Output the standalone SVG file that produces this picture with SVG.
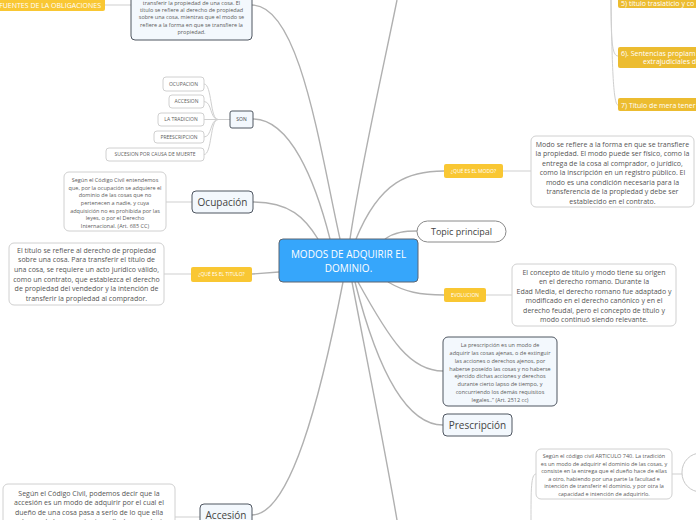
<svg xmlns="http://www.w3.org/2000/svg" width="696" height="520" viewBox="0 0 696 520">
<style>
text{font-family:"Open Sans","Noto Sans","DejaVu Sans",sans-serif}
.main{fill:none;stroke:#b0b0b0;stroke-width:1.4}
.sub{fill:none;stroke:#cfcfcf;stroke-width:1}
.yel{fill:#f9c733}
.gold{fill:#ecbc30}
.yt{fill:#ffffff;font-size:5px;text-anchor:middle}
.gt{fill:#ffffff;font-size:7px}
.lb{fill:#f3f8fd;stroke:#4f5661;stroke-width:1}
.wb{fill:#ffffff;stroke:#d0d0d0;stroke-width:1}
.st{fill:#5c5c5c;font-size:5.5px;text-anchor:middle}
.mt{fill:#555555;font-size:7px;text-anchor:middle}
.lt{fill:#5c5c5c;font-size:5px;text-anchor:middle}
.tt{fill:#444444;font-size:10px;text-anchor:middle}
</style>
<rect width="696" height="520" fill="#ffffff"/>
<g id="connectors">
<path class="main" d="M252,5 C300,5 320,150 340,239"/>
<path class="main" d="M397,0 C385,60 360,170 350,239"/>
<path class="main" d="M253,119 C290,119 315,180 330,239"/>
<path class="main" d="M253,202 C290,202 305,218 318,239"/>
<path class="main" d="M252,274 L279,272"/>
<path class="main" d="M356,239 C380,180 410,171 444,171"/>
<path class="main" d="M385,239 C395,232 405,231 417,231"/>
<path class="main" d="M388,282 C405,292 420,295 444,295"/>
<path class="main" d="M358,282 C390,340 410,371 443,371"/>
<path class="main" d="M355,282 C380,380 410,425 443,425"/>
<path class="main" d="M352,282 C365,350 385,450 397,520"/>
<path class="main" d="M343,282 C320,400 290,515 252,515"/>
<path class="sub" d="M105,5 L131,5"/>
<path class="sub" d="M230,119.5 L218,119.5"/>
<path class="sub" d="M218,119.5 C210,119.5 212,84 204,84"/>
<path class="sub" d="M218,119.5 C210,119.5 212,101.5 204,101.5"/>
<path class="sub" d="M218,119.5 L204,119.5"/>
<path class="sub" d="M218,119.5 C210,119.5 212,137 204,137"/>
<path class="sub" d="M218,119.5 C210,119.5 212,154.5 204,154.5"/>
<path class="sub" d="M166,202 L192,202"/>
<path class="sub" d="M164,274 L191,274"/>
<path class="sub" d="M503,171 L531,171"/>
<path class="sub" d="M486,295 L512,295"/>
<path class="sub" d="M175,517 L200,517"/>
<path class="sub" d="M672,474 L682,474"/>
<path class="sub" d="M531,520 C531,490 531,474 536,474"/>
<path class="sub" d="M611,0 C611,40 612,56 618,56"/>
<path class="sub" d="M611,0 C612,60 613,105 618,105"/>
</g>
<g id="fuentes">
<rect class="yel" x="-10" y="-6" width="115" height="17" rx="2"/>
<text class="gt" x="101" y="7.5" text-anchor="end">FUENTES DE LA OBLIGACIONES</text>
</g>
<g id="top-text">
<rect class="lb" x="131" y="-10" width="121" height="50" rx="4"/>
<text class="st" x="191.5" y="4.7">transferir la propiedad de una cosa. El</text>
<text class="st" x="191.5" y="12">título se refiere al derecho de propiedad</text>
<text class="st" x="191.5" y="19.3">sobre una cosa, mientras que el modo se</text>
<text class="st" x="191.5" y="27">refiere a la forma en que se transfiere la</text>
<text class="st" x="191.5" y="34.3">propiedad.</text>
</g>
<g id="son">
<rect class="lb" x="230" y="111" width="23" height="17" rx="2"/>
<text class="lt" x="241.5" y="121.3" style="fill:#444">SON</text>
</g>
<g id="ocupacion-l">
<rect class="wb" x="163" y="77" width="41" height="14" rx="3"/>
<text class="lt" x="183.5" y="85.8">OCUPACION</text>
</g>
<g id="accesion-l">
<rect class="wb" x="169" y="95" width="35" height="13" rx="3"/>
<text class="lt" x="186.5" y="103.3">ACCESION</text>
</g>
<g id="tradicion-l">
<rect class="wb" x="158" y="113" width="46" height="13" rx="3"/>
<text class="lt" x="181" y="121.3">LA TRADICION</text>
</g>
<g id="prescripcion-l">
<rect class="wb" x="154" y="131" width="50" height="12" rx="3"/>
<text class="lt" x="179" y="138.8">PREESCRIPCION</text>
</g>
<g id="sucesion-l">
<rect class="wb" x="106" y="148" width="98" height="13" rx="3"/>
<text class="lt" x="155" y="156.3">SUCESION POR CAUSA DE MUERTE</text>
</g>
<g id="ocupacion-text">
<rect class="wb" x="64" y="172" width="102" height="59" rx="5"/>
<text class="st" x="115" y="182">Según el Código Civil entendemos</text>
<text class="st" x="115" y="189.7">que, por la ocupación se adquiere el</text>
<text class="st" x="115" y="197">dominio de las cosas que no</text>
<text class="st" x="115" y="205">pertenecen a nadie, y cuya</text>
<text class="st" x="115" y="212.7">adquisición no es prohibida por las</text>
<text class="st" x="115" y="220.3">leyes, o por el Derecho</text>
<text class="st" x="115" y="228">Internacional. (Art. 685 CC)</text>
</g>
<g id="ocupacion">
<rect class="lb" x="192" y="191" width="61" height="22" rx="4"/>
<text class="tt" x="222.5" y="205.5">Ocupación</text>
</g>
<g id="titulo-text">
<rect class="wb" x="9" y="243" width="155" height="62" rx="5"/>
<text class="mt" x="86.5" y="252.5">El título se refiere al derecho de propiedad</text>
<text class="mt" x="86.5" y="262.3">sobre una cosa. Para transferir el título de</text>
<text class="mt" x="86.5" y="272">una cosa, se requiere un acto jurídico válido,</text>
<text class="mt" x="86.5" y="281.5">como un contrato, que establezca el derecho</text>
<text class="mt" x="86.5" y="291">de propiedad del vendedor y la intención de</text>
<text class="mt" x="86.5" y="300.5">transferir la propiedad al comprador.</text>
</g>
<g id="que-titulo">
<rect class="yel" x="191" y="267" width="61" height="15" rx="2"/>
<text class="yt" x="221.5" y="276.3">¿QUÉ ES EL TITULO?</text>
</g>
<g id="center">
<rect x="279" y="239" width="139" height="43" rx="4" fill="#36a6fb" stroke="#5d6570" stroke-width="1"/>
<text x="348.5" y="258" font-size="10" fill="#ffffff" text-anchor="middle">MODOS DE ADQUIRIR EL</text>
<text x="348.5" y="271.5" font-size="10" fill="#ffffff" text-anchor="middle">DOMINIO.</text>
</g>
<g id="box5">
<rect class="gold" x="618" y="-6" width="100" height="14" rx="2"/>
<text class="gt" x="621" y="5.5">5) título traslaticio y co</text>
</g>
<g id="box6">
<rect class="gold" x="618" y="47" width="100" height="21" rx="2"/>
<text class="gt" x="621" y="55.5">6). Sentencias proplam</text>
<text class="gt" x="643" y="64.3">extrajudiciales d</text>
</g>
<g id="box7">
<rect class="gold" x="618" y="98" width="100" height="13" rx="2"/>
<text class="gt" x="621" y="107.5">7) Título de mera tener</text>
</g>
<g id="que-modo">
<rect class="yel" x="444" y="164" width="59" height="14" rx="2"/>
<text class="yt" x="473.5" y="172.8">¿QUÉ ES EL MODO?</text>
</g>
<g id="modo-text">
<rect class="wb" x="531" y="136" width="163" height="71" rx="5"/>
<text class="mt" x="612.5" y="146.5">Modo se refiere a la forma en que se transfiere</text>
<text class="mt" x="612.5" y="156">la propiedad. El modo puede ser físico, como la</text>
<text class="mt" x="612.5" y="165.5">entrega de la cosa al comprador, o jurídico,</text>
<text class="mt" x="612.5" y="175">como la inscripción en un registro público. El</text>
<text class="mt" x="612.5" y="184.5">modo es una condición necesaria para la</text>
<text class="mt" x="612.5" y="194">transferencia de la propiedad y debe ser</text>
<text class="mt" x="612.5" y="203.5">establecido en el contrato.</text>
</g>
<g id="topic">
<rect x="417" y="221" width="89" height="21" rx="10.5" fill="#ffffff" stroke="#8a8a8a" stroke-width="1"/>
<text x="461.5" y="235" font-size="9" fill="#444" text-anchor="middle">Topic principal</text>
</g>
<g id="evolucion">
<rect class="yel" x="444" y="288" width="42" height="14" rx="2"/>
<text class="yt" x="465" y="296.8">EVOLUCION</text>
</g>
<g id="evolucion-text">
<rect class="wb" x="512" y="264" width="164" height="62" rx="5"/>
<text class="mt" x="594" y="274.5">El concepto de título y modo tiene su origen</text>
<text class="mt" x="594" y="284.3">en el derecho romano. Durante la</text>
<text class="mt" x="594" y="293.7">Edad Media, el derecho romano fue adaptado y</text>
<text class="mt" x="594" y="303.3">modificado en el derecho canónico y en el</text>
<text class="mt" x="594" y="312.7">derecho feudal, pero el concepto de título y</text>
<text class="mt" x="594" y="322.3">modo continuó siendo relevante.</text>
</g>
<g id="prescripcion-text">
<rect class="lb" x="443" y="337" width="114" height="69" rx="5"/>
<text class="st" x="500" y="347">La prescripción es un modo de</text>
<text class="st" x="500" y="355">adquirir las cosas ajenas, o de extinguir</text>
<text class="st" x="500" y="362.7">las acciones o derechos ajenos, por</text>
<text class="st" x="500" y="370.7">haberse poseído las cosas y no haberse</text>
<text class="st" x="500" y="378.3">ejercido dichas acciones y derechos</text>
<text class="st" x="500" y="386">durante cierto lapso de tiempo, y</text>
<text class="st" x="500" y="394">concurriendo los demás requisitos</text>
<text class="st" x="500" y="402">legales..” (Art. 2512 cc)</text>
</g>
<g id="prescripcion">
<rect class="lb" x="443" y="414" width="69" height="22" rx="4"/>
<text class="tt" x="477.5" y="428.5">Prescripción</text>
</g>
<g id="tradicion-text">
<rect class="wb" x="536" y="449" width="136" height="50" rx="5"/>
<text class="st" x="604" y="458">Según el código civil ARTICULO 740. La tradición</text>
<text class="st" x="604" y="465.7">es un modo de adquirir el dominio de las cosas, y</text>
<text class="st" x="604" y="473.2">consiste en la entrega que el dueño hace de ellas</text>
<text class="st" x="604" y="480.8">a otro, habiendo por una parte la facultad e</text>
<text class="st" x="604" y="488.3">intención de transferir el dominio, y por otra la</text>
<text class="st" x="604" y="495.7">capacidad e intención de adquirirlo.</text>
</g>
<g id="tradicion">
<rect class="wb" x="682" y="453" width="70" height="39" rx="19" style="stroke:#c8c8c8"/>
</g>
<g id="accesion-text">
<rect class="wb" x="3" y="484" width="172" height="50" rx="5"/>
<text class="mt" x="89" y="495.5">Según el Código Civil, podemos decir que la</text>
<text class="mt" x="89" y="505">accesión es un modo de adquirir por el cual el</text>
<text class="mt" x="89" y="514.5">dueño de una cosa pasa a serlo de lo que ella</text>
<text class="mt" x="89" y="523.5">produce o de lo que se junta a ella. Los productos</text>
</g>
<g id="accesion">
<rect class="lb" x="200" y="504" width="52" height="24" rx="4"/>
<text class="tt" x="226" y="518.5">Accesión</text>
</g>
</svg>
